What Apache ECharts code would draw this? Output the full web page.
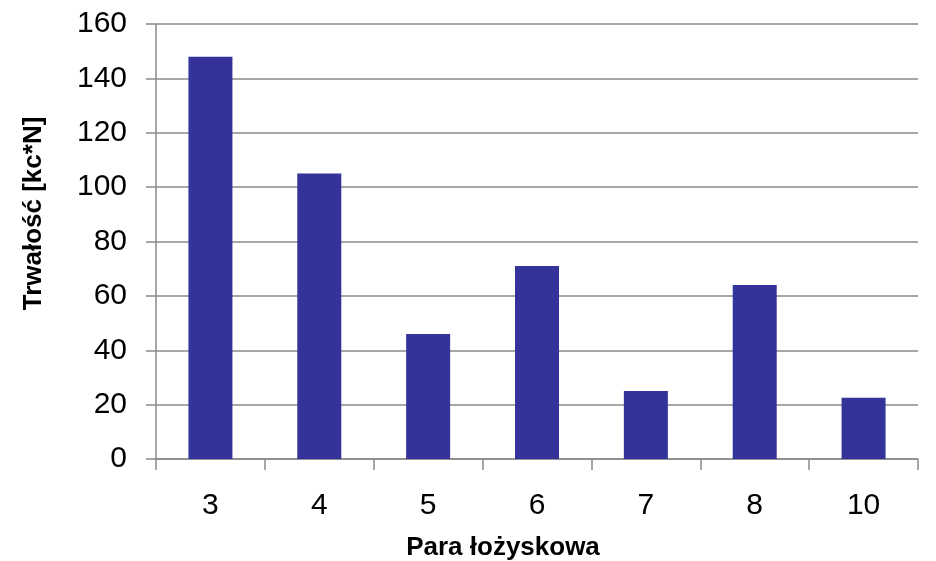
<!DOCTYPE html>
<html>
<head>
<meta charset="utf-8">
<script src="https://cdn.jsdelivr.net/npm/echarts@6/dist/echarts.min.js"></script>
<style>
  html, body { margin: 0; padding: 0; background: #fff; }
  #chart { width: 936px; height: 561px; }
</style>
</head>
<body>
<div id="chart"></div>
<script>
// Bearing pairs and their measured durability
const categories = ['3', '4', '5', '6', '7', '8', '10'];
const durability = [148, 105, 46, 71, 25, 64, 22.5];
const yTicks = { min: 0, max: 160, interval: 20 };

const axisGrey = '#8a8a8a';
const font = 'Liberation Sans, Arial, sans-serif';

const chart = echarts.init(document.getElementById('chart'));
chart.setOption({
  animation: false,
  backgroundColor: '#ffffff',
  grid: { left: 156, right: 18, top: 24, bottom: 102, outerBoundsMode: 'none' },
  xAxis: {
    type: 'category',
    data: categories,
    boundaryGap: true,
    name: 'Para łożyskowa',
    nameLocation: 'middle',
    nameGap: 76,
    nameTextStyle: {
      fontFamily: font, fontWeight: 'bold', fontSize: 26, color: '#000',
      padding: [0, 68, 0, 0]
    },
    axisLine: { show: true, lineStyle: { color: axisGrey, width: 1.5 } },
    axisTick: { show: true, alignWithLabel: false, length: 11, lineStyle: { color: axisGrey, width: 1.5 } },
    axisLabel: { fontFamily: font, fontSize: 30, color: '#000', margin: 32 }
  },
  yAxis: {
    type: 'value',
    min: yTicks.min,
    max: yTicks.max,
    interval: yTicks.interval,
    name: 'Trwałość [kc*N]',
    nameLocation: 'middle',
    nameGap: 109,
    nameTextStyle: {
      fontFamily: font, fontWeight: 'bold', fontSize: 26, color: '#000',
      padding: [0, 0, 0, 56]
    },
    axisLine: { show: true, lineStyle: { color: axisGrey, width: 1.5 } },
    axisTick: { show: true, length: 10, lineStyle: { color: axisGrey, width: 1.5 } },
    splitLine: { show: true, lineStyle: { color: axisGrey, width: 1.5 } },
    axisLabel: { fontFamily: font, fontSize: 30, color: '#000', margin: 29 }
  },
  series: [{
    type: 'bar',
    data: durability,
    barWidth: 44,
    itemStyle: { color: '#333399' }
  }]
});
</script>
</body>
</html>
